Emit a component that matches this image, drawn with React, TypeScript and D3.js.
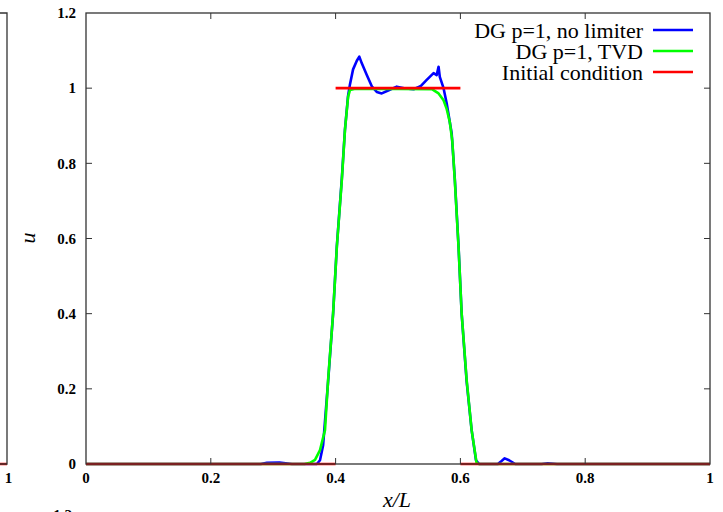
import React from "react";
import * as d3 from "d3";

// ---- data ----
const xTicks = [0, 0.2, 0.4, 0.6, 0.8, 1];
const yTicks = [0, 0.2, 0.4, 0.6, 0.8, 1, 1.2];
const xTickLabels = ["0", "0.2", "0.4", "0.6", "0.8", "1"];
const yTickLabels = ["0", "0.2", "0.4", "0.6", "0.8", "1", "1.2"];

const seriesNames = ["DG p=1, no limiter", "DG p=1, TVD", "Initial condition"];
const seriesColors = ["#0000ff", "#00ff00", "#ff0000"];

// DG p=1, no limiter
const noLimX = [0, 0.28, 0.29, 0.31, 0.32, 0.33, 0.36, 0.37, 0.375, 0.38, 0.388, 0.396, 0.402, 0.41, 0.415, 0.42, 0.423, 0.428, 0.434, 0.438, 0.442, 0.45, 0.458, 0.466, 0.474, 0.486, 0.498, 0.512, 0.525, 0.536, 0.546, 0.557, 0.562, 0.565, 0.567, 0.573, 0.578, 0.586, 0.591, 0.597, 0.602, 0.61, 0.618, 0.625, 0.63, 0.66, 0.666, 0.671, 0.678, 0.688, 0.73, 0.74, 0.755, 1];
const noLimU = [0, 0, 0.003, 0.004, 0.002, 0, 0, 0, 0.01, 0.05, 0.22, 0.4, 0.58, 0.76, 0.89, 0.98, 1.01, 1.05, 1.073, 1.084, 1.066, 1.035, 1.005, 0.99, 0.986, 0.995, 1.004, 0.999, 0.997, 1.005, 1.022, 1.04, 1.035, 1.057, 1.03, 1.0, 0.96, 0.88, 0.76, 0.58, 0.4, 0.22, 0.09, 0.01, 0, 0, 0.008, 0.015, 0.01, 0, 0, 0.002, 0, 0];

// DG p=1, TVD
const tvdX = [0, 0.35, 0.359, 0.367, 0.375, 0.383, 0.388, 0.396, 0.402, 0.41, 0.415, 0.42, 0.423, 0.43, 0.5, 0.555, 0.565, 0.573, 0.578, 0.583, 0.587, 0.591, 0.597, 0.602, 0.61, 0.618, 0.626, 0.63, 1];
const tvdU = [0, 0, 0.003, 0.011, 0.037, 0.09, 0.224, 0.401, 0.578, 0.756, 0.889, 0.977, 0.995, 0.998, 0.998, 0.997, 0.986, 0.968, 0.945, 0.91, 0.86, 0.756, 0.578, 0.401, 0.224, 0.09, 0.002, 0, 0];

// Initial condition (square pulse, drawn without vertical jumps)
const icX = [0, 0.4, 0.4, 0.6, 0.6, 1];
const icU = [0, 0, 1, 1, 0, 0];

const W = 723;
const H = 512;
const M = { left: 86, right: 710, top: 13, bottom: 464 };

export default function App() {
  const x = d3.scaleLinear().domain([0, 1]).range([M.left, M.right]);
  const y = d3.scaleLinear().domain([0, 1.2]).range([M.bottom, M.top]);
  const line = d3
    .line<[number, number]>()
    .x((d) => x(d[0]))
    .y((d) => y(d[1]));

  const noLim = noLimX.map((v, i) => [v, noLimU[i]] as [number, number]);
  const tvd = tvdX.map((v, i) => [v, tvdU[i]] as [number, number]);
  const icSegs: [number, number][][] = [];
  for (let i = 0; i < icX.length - 1; i++) {
    if (icU[i] === icU[i + 1]) icSegs.push([[icX[i], icU[i]], [icX[i + 1], icU[i + 1]]]);
  }

  const tickFont = { fontFamily: "Liberation Serif, serif", fontWeight: "bold" as const, fontSize: 15 };
  const borderColor = "#333";
  const tickLen = 6;

  return (
    <svg width={W} height={H} style={{ position: "absolute", left: 0, top: 0, background: "#fff" }}>
      {/* partial neighbour plot on the left */}
      <line x1={0} y1={y(0)} x2={7} y2={y(0)} stroke="#ff0000" strokeWidth={2.5} />
      <path d={`M0,${M.top}H7V${M.bottom}H0`} fill="none" stroke={borderColor} strokeWidth={1.3} />
      <text x={8.5} y={483} textAnchor="middle" {...tickFont}>1</text>
      <text x={72} y={520} textAnchor="end" {...tickFont}>1.2</text>

      {/* series */}
      <path d={line(noLim) || ""} fill="none" stroke={seriesColors[0]} strokeWidth={2.6} strokeLinejoin="round" />
      <path d={line(tvd) || ""} fill="none" stroke={seriesColors[1]} strokeWidth={2.6} strokeLinejoin="round" />
      {icSegs.map((s, i) => (
        <path key={i} d={line(s) || ""} fill="none" stroke={seriesColors[2]} strokeWidth={2.6} />
      ))}

      {/* frame */}
      <rect x={M.left} y={M.top} width={M.right - M.left} height={M.bottom - M.top} fill="none" stroke={borderColor} strokeWidth={1.3} />

      {/* ticks */}
      {yTicks.map((t, i) => (
        <g key={"y" + i}>
          {t > 0 && t < 1.2 && (
            <>
              <line x1={M.left} x2={M.left + tickLen} y1={y(t)} y2={y(t)} stroke={borderColor} strokeWidth={1} />
              <line x1={M.right} x2={M.right - tickLen} y1={y(t)} y2={y(t)} stroke={borderColor} strokeWidth={1} />
            </>
          )}
          <text x={76} y={y(t)} dy="0.35em" textAnchor="end" {...tickFont}>{yTickLabels[i]}</text>
        </g>
      ))}
      {xTicks.map((t, i) => (
        <g key={"x" + i}>
          {t > 0 && t < 1 && (
            <>
              <line x1={x(t)} x2={x(t)} y1={M.bottom} y2={M.bottom - tickLen} stroke={borderColor} strokeWidth={1} />
              <line x1={x(t)} x2={x(t)} y1={M.top} y2={M.top + tickLen} stroke={borderColor} strokeWidth={1} />
            </>
          )}
          <text x={x(t)} y={483} textAnchor="middle" {...tickFont}>{xTickLabels[i]}</text>
        </g>
      ))}

      {/* axis labels */}
      <text x={397} y={507} textAnchor="middle" fontFamily="Liberation Serif, serif" fontStyle="italic" fontSize={22}>x/L</text>
      <text transform="translate(35,238) rotate(-90)" textAnchor="middle" fontFamily="Liberation Serif, serif" fontStyle="italic" fontSize={22}>u</text>

      {/* legend */}
      {seriesNames.map((n, i) => (
        <g key={"l" + i}>
          <text x={643} y={38 + i * 21} textAnchor="end" fontFamily="Liberation Serif, serif" fontSize={22}>{n}</text>
          <line x1={653} x2={693} y1={30 + i * 21} y2={30 + i * 21} stroke={seriesColors[i]} strokeWidth={2.6} />
        </g>
      ))}
    </svg>
  );
}
